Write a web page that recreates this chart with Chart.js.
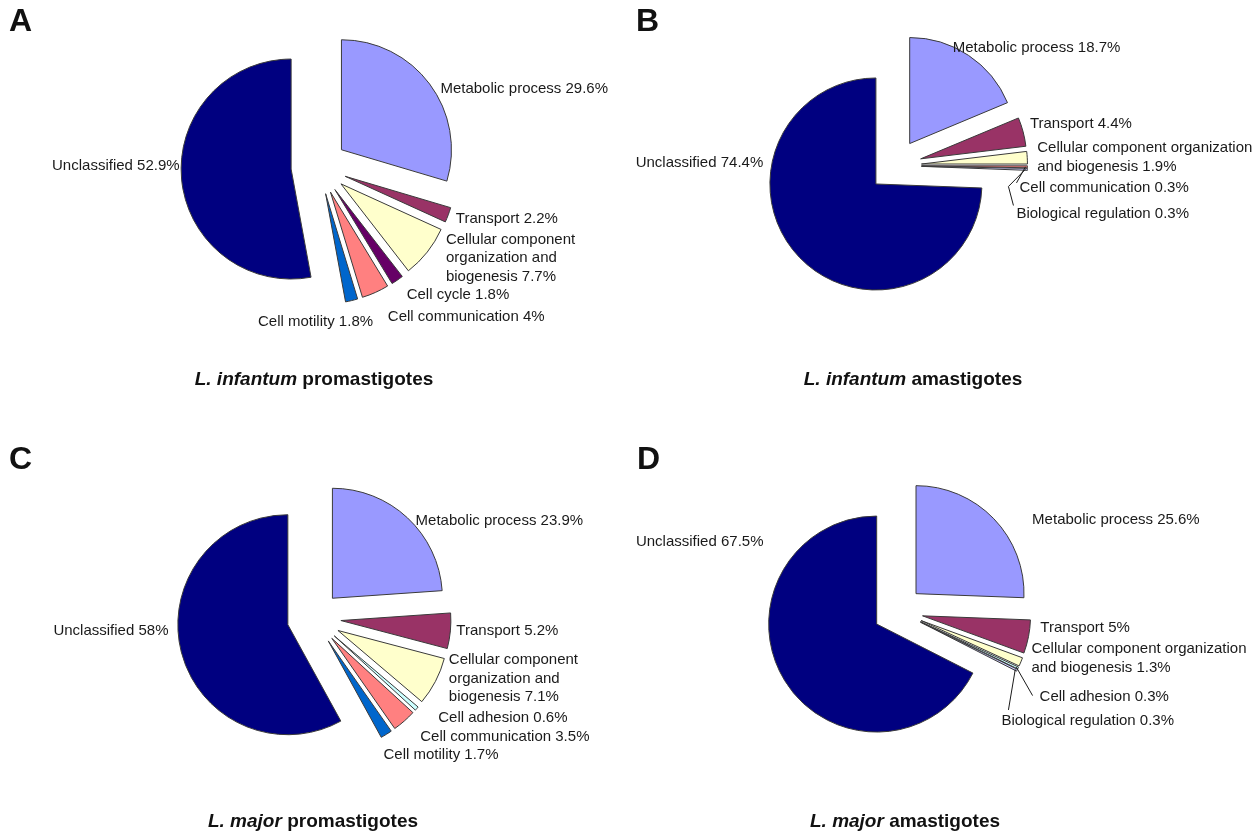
<!DOCTYPE html>
<html>
<head>
<meta charset="utf-8">
<script src="https://cdn.jsdelivr.net/npm/chart.js@4.4.1/dist/chart.umd.min.js"></script>
<style>
  body { margin: 0; background: #fff; }
  #page { position: relative; width: 1252px; height: 831px; overflow: hidden; font-family: 'Liberation Sans', Arial, sans-serif; color: #111; }
  canvas { position: absolute; }
  .letter { position: absolute; font-weight: bold; font-size: 32px; line-height: 32px; }
  .title { position: absolute; font-weight: bold; font-size: 19px; line-height: 19px; transform: translate(-50%, -50%); white-space: nowrap; }
</style>
</head>
<body>
<div id="page">
  <canvas id="chartA" width="626" height="415" style="left:0;top:0"></canvas>
  <canvas id="chartB" width="626" height="415" style="left:626px;top:0"></canvas>
  <canvas id="chartC" width="626" height="416" style="left:0;top:415px"></canvas>
  <canvas id="chartD" width="626" height="416" style="left:626px;top:415px"></canvas>

  <div class="letter" style="left:9px;top:4px">A</div>
  <div class="letter" style="left:636px;top:4px">B</div>
  <div class="letter" style="left:9px;top:442px">C</div>
  <div class="letter" style="left:637px;top:442px">D</div>

  <div class="title" style="left:314px;top:378px"><i>L. infantum</i> promastigotes</div>
  <div class="title" style="left:913px;top:378px"><i>L. infantum</i> amastigotes</div>
  <div class="title" style="left:313px;top:820px"><i>L. major</i> promastigotes</div>
  <div class="title" style="left:905px;top:820px"><i>L. major</i> amastigotes</div>
</div>
<script>
// slice names (line breaks = how the label wraps) and percentages, clockwise from 12 o'clock
const categoriesA = ['Metabolic process', 'Transport', 'Cellular component\norganization and\nbiogenesis', 'Cell cycle', 'Cell communication', 'Cell motility', 'Unclassified'];
const valuesA = [29.6, 2.2, 7.7, 1.8, 4, 1.8, 52.9];

const categoriesB = ['Metabolic process', 'Transport', 'Cellular component organization\nand biogenesis', 'Cell communication', 'Biological regulation', 'Unclassified'];
const valuesB = [18.7, 4.4, 1.9, 0.3, 0.3, 74.4];

const categoriesC = ['Metabolic process', 'Transport', 'Cellular component\norganization and\nbiogenesis', 'Cell adhesion', 'Cell communication', 'Cell motility', 'Unclassified'];
const valuesC = [23.9, 5.2, 7.1, 0.6, 3.5, 1.7, 58];

const categoriesD = ['Metabolic process', 'Transport', 'Cellular component organization\nand biogenesis', 'Cell adhesion', 'Biological regulation', 'Unclassified'];
const valuesD = [25.6, 5, 1.3, 0.3, 0.3, 67.5];

const sliceColors = {
  'Metabolic process': '#9999FF',
  'Transport': '#993366',
  'Cellular component organization and biogenesis': '#FFFFCC',
  'Cell adhesion': '#CCFFFF',
  'Cell cycle': '#660066',
  'Cell communication': '#FF8080',
  'Cell motility': '#0066CC',
  'Biological regulation': '#CCCCFF',
  'Unclassified': '#000080'
};

// label nudges [dx, dy, align?] from the spot just outside each slice
const nudgesA = [[6, 8], [2, 2], [14, -16], [6, 10], [10, 19], [20, 15, 'right'], [4, -14]];
const nudgesB = [[-19, -2], [1, -6], [4, -9], [-14, 21], [-17, 44], [-32, -99]];
const nudgesC = [[4, 7], [0, -1], [8, -24], [17, 5], [12, 11], [-6, 15], [-7, -23]];
const nudgesD = [[34, 5], [6, -10], [5, -15], [16, 26], [-21, 48], [-16, -142]];

// leader lines: points relative to the label anchor
const leadersB = [null, null, null, [[-3, -5]], [[-8, -27], [-3, -8]], null];
const leadersD = [null, null, null, [[-7, -1]], [[7, -11]], null];

const panels = [
  { id: 'chartA', categories: categoriesA, values: valuesA, centre: [319, 166.5], radius: 110, explode: 28, nudges: nudgesA, leaders: [] },
  { id: 'chartB', categories: categoriesB, values: valuesB, centre: [269, 165.6], radius: 106, explode: 26.5, nudges: nudgesB, leaders: leadersB },
  { id: 'chartC', categories: categoriesC, values: valuesC, centre: [314, 203], radius: 110, explode: 27, nudges: nudgesC, leaders: [] },
  { id: 'chartD', categories: categoriesD, values: valuesD, centre: [272, 196], radius: 108, explode: 25, nudges: nudgesD, leaders: leadersD }
];

// every slice pulled out by the same distance (Chart.js' own offset also grows the radius)
const explodeSlices = {
  id: 'explodeSlices',
  beforeDatasetDraw(chart, args, opts) {
    const ctx = chart.ctx;
    args.meta.data.forEach(arc => {
      const mid = (arc.startAngle + arc.endAngle) / 2;
      ctx.save();
      ctx.translate(Math.cos(mid) * opts.explode, Math.sin(mid) * opts.explode);
      arc.draw(ctx);
      ctx.restore();
    });
    return false;
  }
};

const sliceLabels = {
  id: 'sliceLabels',
  afterDatasetsDraw(chart, args, opts) {
    const ctx = chart.ctx;
    const meta = chart.getDatasetMeta(0);
    const values = chart.data.datasets[0].data;
    ctx.save();
    ctx.font = '15px "Liberation Sans", Arial, sans-serif';
    ctx.fillStyle = '#1a1a1a';
    ctx.strokeStyle = '#1a1a1a';
    ctx.lineWidth = 1;
    ctx.textBaseline = 'middle';
    meta.data.forEach((arc, i) => {
      const { x, y, startAngle, endAngle, outerRadius } = arc.getProps(['x', 'y', 'startAngle', 'endAngle', 'outerRadius'], true);
      const mid = (startAngle + endAngle) / 2;
      const cos = Math.cos(mid);
      const sin = Math.sin(mid);
      const dist = outerRadius + opts.explode;
      const nudge = opts.nudges[i] || [0, 0];
      const ax = x + cos * (dist + 6) + nudge[0];
      const ay = y + sin * (dist + 6) + nudge[1];
      ctx.textAlign = nudge[2] || (cos < 0 ? 'right' : 'left');
      const lines = `${chart.data.labels[i]} ${values[i]}%`.split('\n');
      lines.forEach((line, k) => ctx.fillText(line, ax, ay + k * 18.5));

      const leader = opts.leaders[i];
      if (leader) {
        ctx.beginPath();
        ctx.moveTo(x + cos * (dist - 2), y + sin * (dist - 2));
        leader.forEach(p => ctx.lineTo(ax + p[0], ay + p[1]));
        ctx.stroke();
      }
    });
    ctx.restore();
  }
};

const drawPanel = (panel) => {
  const canvas = document.getElementById(panel.id);
  const w = canvas.width;
  const h = canvas.height;
  const [cx, cy] = panel.centre;
  const names = panel.categories.map(c => c.replace(/\n/g, ' '));

  new Chart(canvas.getContext('2d'), {
    type: 'pie',
    data: {
      labels: panel.categories,
      datasets: [{
        data: panel.values,
        backgroundColor: names.map(n => sliceColors[n]),
        borderColor: '#3a3a3a',
        borderWidth: 1,
        hoverOffset: 0
      }]
    },
    options: {
      responsive: false,
      animation: false,
      events: [],
      radius: panel.radius,
      layout: {
        padding: {
          left: Math.max(0, 2 * cx - w),
          right: Math.max(0, w - 2 * cx),
          top: Math.max(0, 2 * cy - h),
          bottom: Math.max(0, h - 2 * cy)
        }
      },
      plugins: {
        legend: { display: false },
        tooltip: { enabled: false },
        explodeSlices: { explode: panel.explode },
        sliceLabels: { explode: panel.explode, nudges: panel.nudges, leaders: panel.leaders }
      }
    },
    plugins: [explodeSlices, sliceLabels]
  });
};

panels.forEach(drawPanel);
</script>
</body>
</html>
